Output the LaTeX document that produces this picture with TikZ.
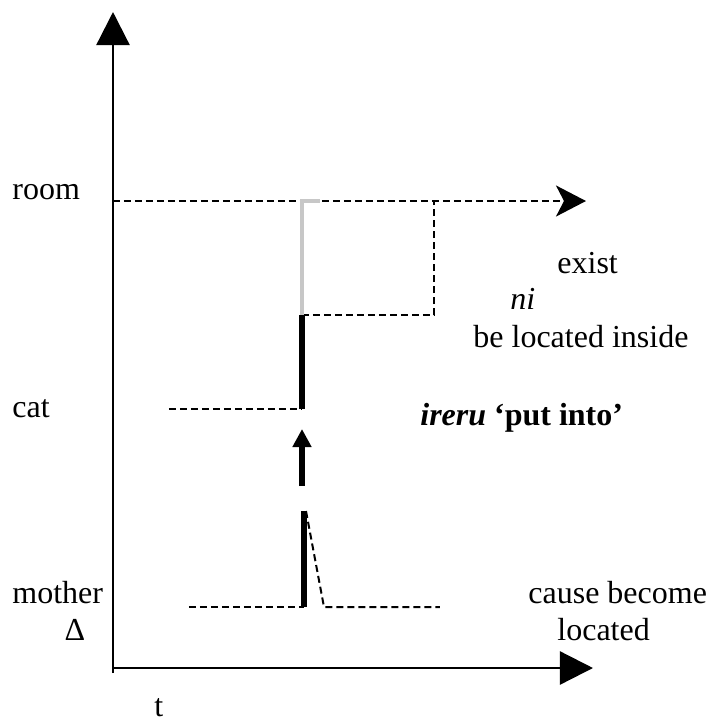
\documentclass[tikz,border=0pt]{standalone}
\usepackage{fontspec}
\setmainfont{Liberation Serif}
\usetikzlibrary{arrows.meta}
\begin{document}
\begin{tikzpicture}[x=0.5pt,y=-0.5pt,
  lbl/.style={anchor=base west,inner sep=0pt,font=\fontsize{16}{19}\selectfont},
  axisline/.style={line width=1.15pt,-{Triangle[length=16.5pt,width=16.5pt]}},
  dashline/.style={line width=1pt,dash pattern=on 3.5pt off 2pt},
  thickline/.style={line width=2.6pt},
  grayline/.style={line width=2.2pt,color=black!22}]
\useasboundingbox (0,0) rectangle (709,720);
% axes
\coordinate (O) at (113,668);
\coordinate (ytop) at (113,12);
\coordinate (xend) at (593,668);
\draw[axisline] (113,673) -- (ytop);
\draw[axisline] (O) -- (xend);
% room
\coordinate (r0) at (113,201);
\coordinate (r1) at (586,201);
\coordinate (g0) at (302,201);
\coordinate (g1) at (302,315);
\coordinate (gt) at (320,201);
\coordinate (b1) at (434,315);
\coordinate (b2) at (434,201);
\draw[dashline,-{Stealth[length=15pt,width=15.5pt,inset=4pt]}] (r0) -- (r1);
\draw[dashline] (g1) -- (b1) -- (b2);
\draw[grayline] (g1) -- (g0) -- (gt);
% cat
\coordinate (c0) at (169,409);
\coordinate (c1) at (302,409);
\draw[dashline] (c0) -- (c1);
\draw[thickline] (c1) -- (g1);
% causal arrow
\coordinate (a0) at (302,486);
\coordinate (a1) at (302,429);
\draw[thickline,-{Triangle[length=9pt,width=9pt]}] (a0) -- (a1);
% mother
\coordinate (m0) at (189,607);
\coordinate (m1) at (304,607);
\coordinate (m2) at (304,511);
\coordinate (m3) at (306,511);
\coordinate (m4) at (324,607);
\coordinate (m5) at (440,607);
\draw[dashline] (m0) -- (m1);
\draw[dashline] (m3) -- (m4) -- (m5);
\draw[thickline] (m1) -- (m2);
% labels
\node[lbl] (troom) at (12,199) {room};
\node[lbl] (tcat) at (12,417) {cat};
\node[lbl] (tmother) at (12,603) {mother};
\node[lbl,anchor=base] (tdelta) at (75,640) {Δ};
\node[lbl] (tt) at (154,716) {t};
\node[lbl] (texist) at (557,273) {exist};
\node[lbl] (tni) at (510,309) {\itshape ni};
\node[lbl] (tbe) at (473,347) {be located inside};
\node[lbl] (tireru) at (420,425) {\bfseries\itshape ireru\upshape{} ‘put into’};
\node[lbl] (tcause) at (528,603) {cause become};
\node[lbl] (tloc) at (557,640) {located};
\end{tikzpicture}
\end{document}
